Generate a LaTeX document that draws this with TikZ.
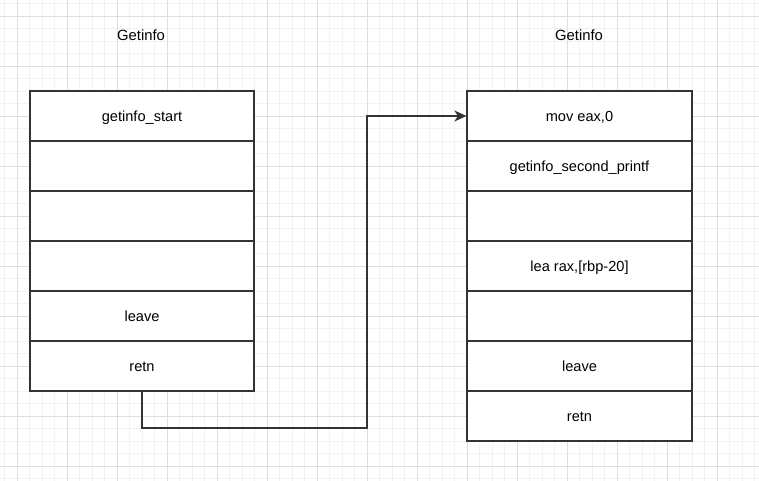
\documentclass[tikz,border=0pt]{standalone}
\usepackage{fontspec}
\setmainfont{Liberation Sans}
\usetikzlibrary{arrows.meta}

\tikzset{
  cell/.style={draw=black!80, line width=1.2pt, fill=white, minimum width=224pt, minimum height=50pt, inner sep=0pt, text height=10.5pt, text depth=0pt, font=\fontsize{14.6}{16}\selectfont},
  title/.style={font=\fontsize{14.8}{16}\selectfont},
  link/.style={draw=black!80, line width=1.2pt, -{Stealth[length=12pt,width=11pt,inset=3.5pt]}}
}

\begin{document}
\begin{tikzpicture}[x=1pt,y=-1pt]
		\useasboundingbox (0,0) rectangle (759,481);
		% background grid
		\foreach \g in {4.5,17,...,759} {
			\draw[black!5, line width=0.8pt] (\g,0) -- (\g,481);
		}
		\foreach \g in {3.5,16,...,481} {
			\draw[black!5, line width=0.8pt] (0,\g) -- (759,\g);
		}
		\foreach \g in {17,67,...,759} {
			\draw[black!13, line width=0.8pt] (\g,0) -- (\g,481);
		}
		\foreach \g in {16,66,...,481} {
			\draw[black!13, line width=0.8pt] (0,\g) -- (759,\g);
		}

		\node[title] (tleft) at (141,35) {Getinfo};
		\node[title] (tright) at (579,35) {Getinfo};

		% left frame
		\node[cell] (L1) at (142,116) {getinfo\_start};
		\node[cell] (L2) at (142,166) {};
		\node[cell] (L3) at (142,216) {};
		\node[cell] (L4) at (142,266) {};
		\node[cell] (L5) at (142,316) {leave};
		\node[cell] (L6) at (142,366) {retn};

		% right frame
		\node[cell, minimum width=225pt] (R1) at (579.5,116) {mov eax,0};
		\node[cell, minimum width=225pt] (R2) at (579.5,166) {getinfo\_second\_printf};
		\node[cell, minimum width=225pt] (R3) at (579.5,216) {};
		\node[cell, minimum width=225pt] (R4) at (579.5,266) {lea rax,[rbp-20]};
		\node[cell, minimum width=225pt] (R5) at (579.5,316) {};
		\node[cell, minimum width=225pt] (R6) at (579.5,366) {leave};
		\node[cell, minimum width=225pt] (R7) at (579.5,416) {retn};

		\coordinate (bend) at (367,428);
		\draw[link] (L6.south) |- (bend) |- (R1.west);
\end{tikzpicture}
\end{document}
